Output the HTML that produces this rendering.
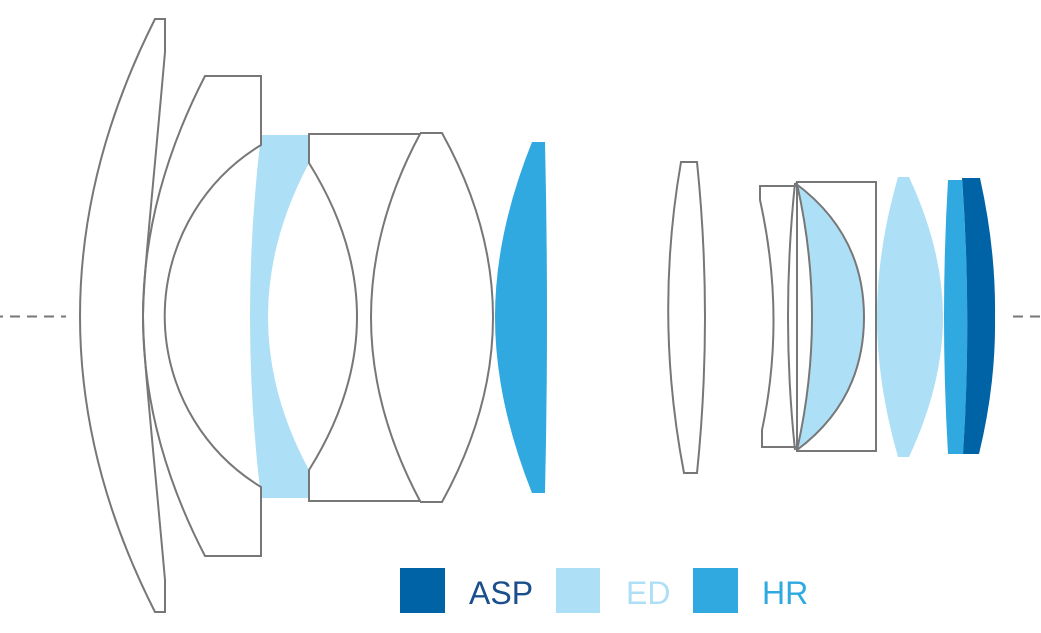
<!DOCTYPE html>
<html><head><meta charset="utf-8"><style>
html,body{margin:0;padding:0;background:#fff;width:1041px;height:633px;overflow:hidden}
svg{display:block}
text{font-family:"Liberation Sans",sans-serif;font-size:32px}
</style></head><body>
<svg width="1041" height="633" viewBox="0 0 1041 633" xmlns="http://www.w3.org/2000/svg">
<g stroke="#777" stroke-width="2" fill="none">
<line x1="0" y1="316.5" x2="66" y2="316.5" stroke-dasharray="10 7" stroke-dashoffset="7"/>
<line x1="1013" y1="316.5" x2="1041" y2="316.5" stroke-dasharray="10 7"/>
</g>
<!-- fills -->
<path d="M261,135 L309,135 L309,163 Q268,240 268,317 Q268,394 309,470 L309,498 L261,498 Q239,317 261,135Z" fill="#ade0f6"/>
<path d="M532,142 L545,142 Q549,317 545,493 L532,493 Q495,400 495,317 Q495,234 532,142Z" fill="#2fa9e0"/>
<path d="M797,184 Q827,317 797,450 Q864,400 864,317 Q864,234 797,184Z" fill="#ade0f6"/>
<path d="M898,177 L909,177 Q943,250 943,317 Q943,384 909,457 L898,457 Q877,384 877,317 Q877,250 898,177Z" fill="#ade0f6"/>
<path d="M948,180 L962,180 Q972,317 963,454 L948,454 Q940,317 948,180Z" fill="#2fa9e0"/>
<path d="M962,178 L980,178 Q996,250 995,317 Q996,384 979,454 L963,454 Q972,317 962,178Z" fill="#0063a5"/>
<g stroke="#777" stroke-width="2" fill="none" stroke-linejoin="miter">
<path d="M155,19 L165,19 L165,52 C152,200 143,280 143,317 C143,354 152,434 165,580 L165,612 L155,612 Q5,317 155,19Z"/>
<path d="M205,76 L261,76 L261,145 A200,200 0 0 0 261,487 L261,556 L205,556 Q81,317 205,76Z"/>
<path d="M309,134 L420,134 Q322,317 420,501 L309,501 L309,470 Q405,317 309,163Z"/>
<path d="M420,133 L442,133 Q544,317 442,502 L420,502"/>
<path d="M681,162 L697,162 Q713,317 697,473 L684,473 Q654,317 681,162Z"/>
<path d="M760,186 L797,186 L797,447 L762,447 L762,430 Q786,317 760,200Z"/>
<path d="M795,183 Q781,317 795,450"/>
<rect x="797" y="182" width="79" height="269"/>
<path d="M795,183 Q864,234 864,317 Q864,400 797,450"/>
<path d="M797,184 Q827,317 797,450"/>
</g>
<rect x="400" y="568" width="45" height="45" fill="#0063a5"/>
<text x="469" y="604" fill="#1a4e8c">ASP</text>
<rect x="556" y="568" width="44" height="45" fill="#ade0f6"/>
<text x="626" y="604" fill="#ade0f6">ED</text>
<rect x="693" y="568" width="45" height="45" fill="#2fa9e0"/>
<text x="762" y="604" fill="#2fa9e0">HR</text>
</svg>
</body></html>
